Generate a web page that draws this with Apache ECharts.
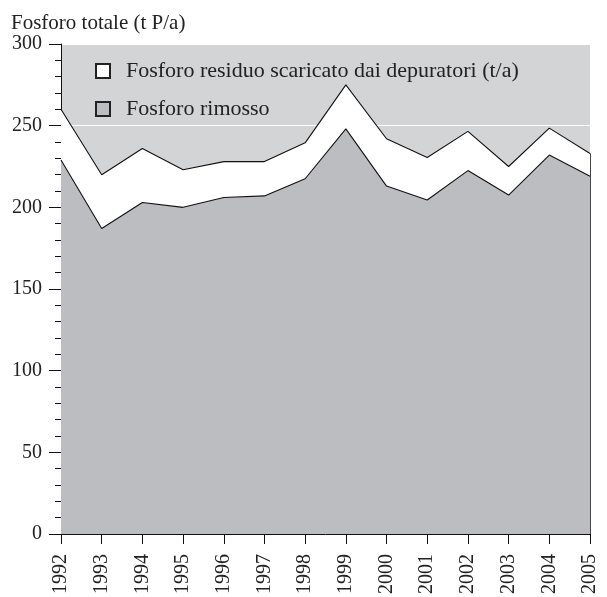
<!DOCTYPE html>
<html>
<head>
<meta charset="utf-8">
<script src="https://cdn.jsdelivr.net/npm/echarts@6/dist/echarts.min.js"></script>
<style>html,body{margin:0;padding:0;background:#fff}#c{width:607px;height:597px}</style>
</head>
<body>
<div id="c"></div>
<script>
const years = ['1992','1993','1994','1995','1996','1997','1998','1999','2000','2001','2002','2003','2004','2005'];
const rimosso = [229, 187, 203, 200, 206, 207, 217.5, 248, 213, 204.5, 222.5, 207.5, 232, 219];
const residuo = [31, 33, 33, 23, 22, 21, 22, 27, 29, 26, 24, 17.5, 16.5, 14];
const yTitle = 'Fosforo totale (t P/a)';
const nameResiduo = 'Fosforo residuo scaricato dai depuratori (t/a)';
const nameRimosso = 'Fosforo rimosso';

const lastIdx = years.length - 1;
const lastTotal = rimosso[lastIdx] + residuo[lastIdx];
const font = 'Liberation Serif';

const chart = echarts.init(document.getElementById('c'), null, {renderer: 'canvas'});
chart.setOption({
  animation: false,
  textStyle: {fontFamily: font},
  title: {
    text: yTitle, left: 6, top: 8,
    textStyle: {fontFamily: font, fontSize: 21, fontWeight: 'normal', color: '#222'}
  },
  grid: {
    left: 61, right: 17, top: 44, bottom: 63, show: true,
    backgroundColor: '#d3d4d6', borderWidth: 0
  },
  legend: {
    data: [nameResiduo, nameRimosso],
    orient: 'vertical', left: 90, top: 55,
    icon: 'rect', itemWidth: 14, itemHeight: 14, itemGap: 16,
    textStyle: {fontFamily: font, fontSize: 22, color: '#222', padding: [0,0,0,11]},
    selectedMode: false
  },
  xAxis: {
    type: 'category', data: years, boundaryGap: false,
    axisLine: {lineStyle: {color: '#111', width: 1}},
    axisTick: {show: true, length: 10, alignWithLabel: true, lineStyle: {color: '#111'}},
    axisLabel: {rotate: 90, margin: 20, fontFamily: font, fontSize: 20, color: '#222'},
    splitLine: {show: false}
  },
  yAxis: {
    type: 'value', min: 0, max: 300, interval: 50,
    axisLine: {show: true, lineStyle: {color: '#111', width: 1}},
    axisTick: {show: true, length: 12, lineStyle: {color: '#111'}},
    minorTick: {show: true, splitNumber: 5, length: 6, lineStyle: {color: '#111'}},
    axisLabel: {margin: 19, fontFamily: font, fontSize: 20, color: '#222'},
    splitLine: {show: true, lineStyle: {color: '#ffffff', width: 1}}
  },
  series: [
    {
      name: nameRimosso, type: 'line', stack: 'tot', data: rimosso,
      symbol: 'none', itemStyle: {color: '#bcbdc1', borderColor: '#222', borderWidth: 1},
      lineStyle: {color: '#111', width: 1.1},
      areaStyle: {color: '#bcbdc1', opacity: 1}
    },
    {
      name: nameResiduo, type: 'line', stack: 'tot', data: residuo,
      symbol: 'none', itemStyle: {color: '#ffffff', borderColor: '#222', borderWidth: 1},
      lineStyle: {color: '#111', width: 1.1},
      areaStyle: {color: '#ffffff', opacity: 1},
      markLine: {
        silent: true, symbol: 'none', label: {show: false},
        lineStyle: {color: '#444', width: 1, type: 'solid'},
        data: [[{coord: [years[lastIdx], 0]}, {coord: [years[lastIdx], lastTotal]}]]
      }
    }
  ]
});
</script>
</body>
</html>
